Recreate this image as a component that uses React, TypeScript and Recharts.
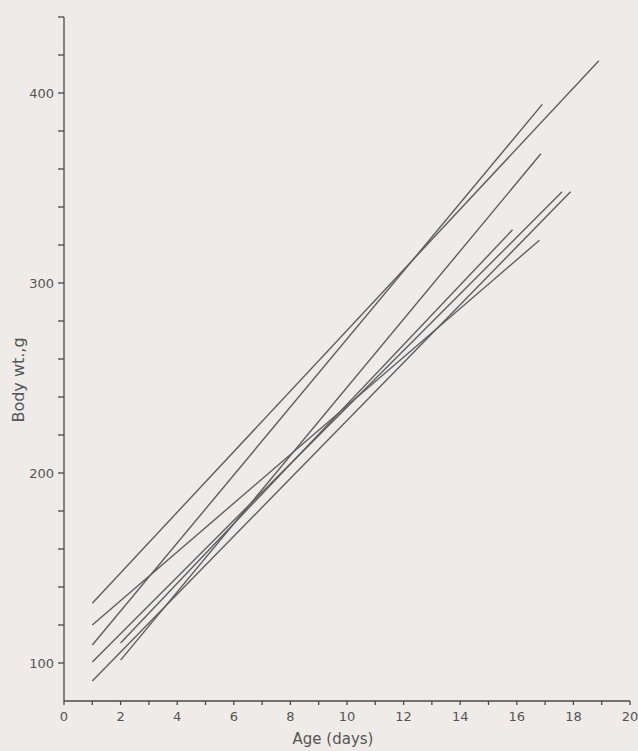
import React from 'react';
import { LineChart, Line, XAxis, YAxis } from 'recharts';

// Regression lines: start/end age (days) and body weight (g)
const lineNames = ['L1', 'L2', 'L3', 'L4', 'L5', 'L6', 'L7'];
const startAge = [1, 1, 1, 1, 2, 2, 1];
const startWt = [131.5, 120, 109.5, 100.5, 110.5, 101.5, 90.5];
const endAge = [18.9, 16.8, 16.9, 17.6, 15.85, 16.85, 17.9];
const endWt = [417, 322.5, 394, 348, 328, 368, 348];

const xTicks = [0, 1, 2, 3, 4, 5, 6, 7, 8, 9, 10, 11, 12, 13, 14, 15, 16, 17, 18, 19, 20];
const yTicks = [100, 120, 140, 160, 180, 200, 220, 240, 260, 280, 300, 320, 340, 360, 380, 400, 420, 440];

const series = lineNames.map((name, i) => ({
  name,
  data: [
    { age: startAge[i], wt: startWt[i] },
    { age: endAge[i], wt: endWt[i] },
  ],
}));

const INK = '#4a4a4a';
const TXT = '#555';
const FONT = 'DejaVu Sans, sans-serif';

if (typeof document !== 'undefined') {
  document.body.style.margin = '0';
  document.body.style.background = '#eeebe8';
  document.body.style.overflow = 'hidden';
}

export default function App() {
  return (
    <div style={{ width: 638, height: 751, background: '#eeebe8', overflow: 'hidden' }}>
      <LineChart width={638} height={751} margin={{ top: 17, right: 8, bottom: 0, left: 0 }}>
        <XAxis
          dataKey="age"
          type="number"
          domain={[0, 20]}
          ticks={xTicks}
          interval={0}
          allowDuplicatedCategory={false}
          tickFormatter={(v: number) => (v % 2 === 0 ? String(v) : '')}
          height={50}
          stroke={INK}
          strokeWidth={1.3}
          tickSize={4}
          tickMargin={7}
          tick={{ fill: TXT, fontSize: 13, fontFamily: FONT }}
          tickLine={{ stroke: INK }}
          label={{
            content: () => (
              <text x={333} y={744} textAnchor="middle" fill={TXT} fontSize={15} fontFamily={FONT}>
                Age  (days)
              </text>
            ),
          }}
        />
        <YAxis
          dataKey="wt"
          type="number"
          domain={[80, 440]}
          ticks={yTicks}
          interval={0}
          tickFormatter={(v: number) => (v % 100 === 0 ? String(v) : '')}
          width={64}
          stroke={INK}
          strokeWidth={1.3}
          tickSize={6}
          tickMargin={4}
          tick={{ fill: TXT, fontSize: 13, fontFamily: FONT }}
          tickLine={{ stroke: INK }}
          label={{
            content: () => (
              <text
                x={24}
                y={380}
                transform="rotate(-90 24 380)"
                textAnchor="middle"
                fill={TXT}
                fontSize={16}
                fontFamily={FONT}
              >
                Body  wt.,g
              </text>
            ),
          }}
        />
        {series.map((s) => (
          <Line
            key={s.name}
            data={s.data}
            dataKey="wt"
            type="linear"
            stroke="#5e5e5e"
            strokeWidth={1.4}
            dot={false}
            activeDot={false}
            isAnimationActive={false}
          />
        ))}
      </LineChart>
    </div>
  );
}
